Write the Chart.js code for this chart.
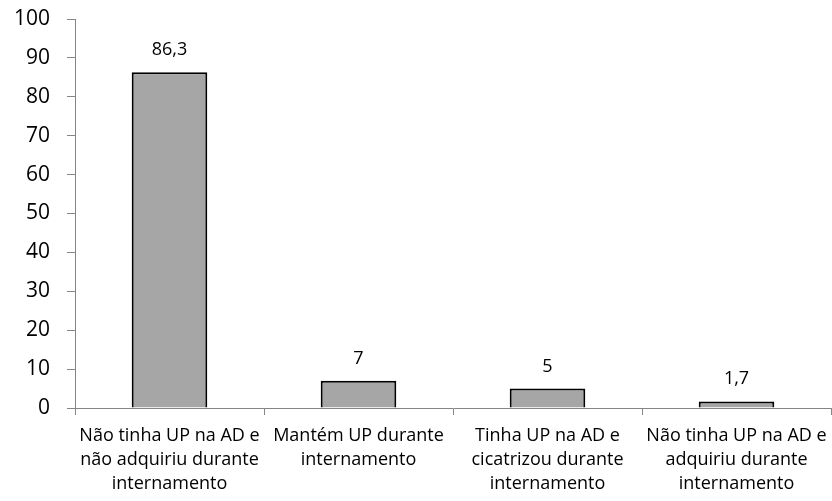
<!DOCTYPE html>
<html>
<head>
<meta charset="utf-8">
<script src="https://cdn.jsdelivr.net/npm/chart.js@4/dist/chart.umd.min.js"></script>
<style>
  html, body { margin: 0; padding: 0; background: #ffffff; }
  #wrap { width: 832px; height: 501px; }
</style>
</head>
<body>
<div id="wrap"><canvas id="c" width="832" height="501"></canvas></div>
<script>
// Categories (multi-line labels) and their percentages
const categories = [
  ["Não tinha UP na AD e", "não adquiriu durante", "internamento"],
  ["Mantém UP durante", "internamento"],
  ["Tinha UP na AD e", "cicatrizou durante", "internamento"],
  ["Não tinha UP na AD e", "adquiriu durante", "internamento"]
];
const values = [86.3, 7, 5, 1.7];
const valueLabels = ["86,3", "7", "5", "1,7"];

const axisColor = "#868686";
const fontFamily = "'Open Sans', 'DejaVu Sans', sans-serif";

// Writes each bar's value above it
const barValueLabels = {
  id: "barValueLabels",
  afterDatasetsDraw(chart) {
    const ctx = chart.ctx;
    const meta = chart.getDatasetMeta(0);
    ctx.save();
    ctx.font = "18px " + fontFamily;
    ctx.fillStyle = "#000";
    ctx.textAlign = "center";
    ctx.textBaseline = "alphabetic";
    meta.data.forEach((bar, i) => {
      ctx.fillText(valueLabels[i], bar.x, bar.y - 17);
    });
    ctx.restore();
  }
};

new Chart(document.getElementById("c"), {
  type: "bar",
  data: {
    labels: categories,
    datasets: [{
      data: values,
      backgroundColor: "#a6a6a6",
      borderColor: "#000000",
      borderWidth: 2,
      categoryPercentage: 1.0,
      barPercentage: 0.4
    }]
  },
  options: {
    responsive: false,
    animation: false,
    devicePixelRatio: 1,
    layout: { padding: { top: 19, right: 1, left: 0, bottom: 0 } },
    plugins: {
      legend: { display: false },
      tooltip: { enabled: false }
    },
    scales: {
      y: {
        min: 0,
        max: 100,
        afterFit(scale) { scale.width = 75; scale.paddingTop = 0; },
        ticks: {
          stepSize: 10,
          color: "#000",
          padding: 17,
          font: { family: fontFamily, size: 21, lineHeight: 1 }
        },
        grid: {
          drawOnChartArea: false,
          tickLength: 8,
          color: axisColor
        },
        border: { color: axisColor, width: 1 }
      },
      x: {
        afterFit(scale) {
          scale.height = 93;
          scale.paddingLeft = 0;
          scale.paddingRight = 0;
        },
        ticks: {
          color: "#000",
          padding: 9,
          maxRotation: 0,
          autoSkip: false,
          font: { family: fontFamily, size: 18, lineHeight: 1.33 }
        },
        grid: {
          offset: true,
          drawOnChartArea: false,
          tickLength: 7,
          color: axisColor
        },
        border: { color: axisColor, width: 1 }
      }
    }
  },
  plugins: [barValueLabels]
});
</script>
</body>
</html>
